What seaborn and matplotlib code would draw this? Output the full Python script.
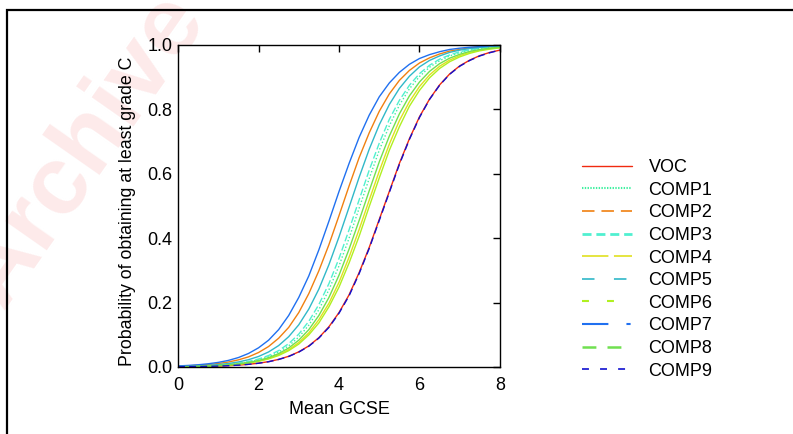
import pandas as pd
import seaborn as sns
import matplotlib.pyplot as plt
from matplotlib.lines import Line2D
from matplotlib.patches import Rectangle

# Data (probability of at least grade C vs mean GCSE)
gcse = [0.0, 0.25, 0.5, 0.75, 1.0, 1.25, 1.5, 1.75, 2.0, 2.25, 2.5, 2.75, 3.0, 3.25, 3.5, 3.75,
        4.0, 4.25, 4.5, 4.75, 5.0, 5.25, 5.5, 5.75, 6.0, 6.25, 6.5, 6.75, 7.0, 7.25, 7.5, 7.75, 8.0]

voc = [0.0007, 0.0010, 0.0014, 0.0020, 0.0029, 0.0041, 0.0058, 0.0083, 0.0118, 0.0166, 0.0237,
       0.0332, 0.0470, 0.0654, 0.0911, 0.125, 0.169, 0.224, 0.293, 0.371, 0.458, 0.545, 0.632,
       0.709, 0.777, 0.832, 0.876, 0.910, 0.935, 0.953, 0.967, 0.977, 0.984]
comp1 = [0.0011, 0.0017, 0.0024, 0.0035, 0.0051, 0.0074, 0.0107, 0.0154, 0.0223, 0.0321, 0.0461,
         0.0657, 0.0928, 0.130, 0.178, 0.240, 0.314, 0.400, 0.493, 0.585, 0.673, 0.749, 0.813,
         0.864, 0.902, 0.931, 0.951, 0.966, 0.976, 0.984, 0.989, 0.992, 0.995]
comp2 = [0.0025, 0.0036, 0.0052, 0.0074, 0.0107, 0.0154, 0.0221, 0.0314, 0.0449, 0.0636, 0.0893,
         0.123, 0.169, 0.228, 0.299, 0.380, 0.470, 0.562, 0.650, 0.727, 0.794, 0.848, 0.890,
         0.921, 0.944, 0.960, 0.972, 0.981, 0.986, 0.991, 0.994, 0.995, 0.997]
comp3 = [0.0013, 0.0018, 0.0027, 0.0039, 0.0056, 0.0082, 0.0118, 0.0171, 0.0247, 0.0356, 0.0509,
         0.0725, 0.102, 0.142, 0.194, 0.259, 0.337, 0.426, 0.519, 0.611, 0.695, 0.769, 0.828,
         0.875, 0.911, 0.937, 0.956, 0.969, 0.979, 0.985, 0.990, 0.993, 0.995]
comp4 = [0.0010, 0.0014, 0.0021, 0.0030, 0.0043, 0.0062, 0.0090, 0.0129, 0.0185, 0.0266, 0.0380,
         0.0537, 0.0759, 0.106, 0.147, 0.198, 0.263, 0.341, 0.427, 0.518, 0.608, 0.692, 0.765,
         0.824, 0.871, 0.907, 0.934, 0.953, 0.967, 0.977, 0.984, 0.989, 0.992]
comp5 = [0.0017, 0.0024, 0.0035, 0.0052, 0.0075, 0.0108, 0.0157, 0.0226, 0.0326, 0.0467, 0.0665,
         0.0941, 0.131, 0.180, 0.242, 0.318, 0.404, 0.496, 0.589, 0.676, 0.752, 0.815, 0.865,
         0.903, 0.932, 0.952, 0.966, 0.977, 0.984, 0.989, 0.992, 0.995, 0.996]
comp6 = [0.0010, 0.0014, 0.0020, 0.0029, 0.0041, 0.0059, 0.0085, 0.0123, 0.0174, 0.0251, 0.0356,
         0.0507, 0.0711, 0.0997, 0.137, 0.187, 0.248, 0.323, 0.406, 0.498, 0.587, 0.673, 0.746,
         0.810, 0.859, 0.898, 0.927, 0.948, 0.963, 0.974, 0.982, 0.987, 0.991]
comp7 = [0.0033, 0.0048, 0.0069, 0.0100, 0.0143, 0.0204, 0.0293, 0.0419, 0.0595, 0.0832, 0.116,
         0.160, 0.216, 0.283, 0.364, 0.453, 0.545, 0.632, 0.713, 0.782, 0.839, 0.882, 0.915,
         0.940, 0.958, 0.970, 0.979, 0.986, 0.990, 0.993, 0.995, 0.997, 0.998]
comp8 = [0.0011, 0.0015, 0.0022, 0.0032, 0.0047, 0.0068, 0.0098, 0.0141, 0.0202, 0.0290, 0.0415,
         0.0590, 0.0832, 0.116, 0.160, 0.216, 0.285, 0.366, 0.455, 0.547, 0.637, 0.717, 0.786,
         0.842, 0.885, 0.918, 0.942, 0.959, 0.971, 0.980, 0.986, 0.990, 0.993]
comp9 = [0.0007, 0.0010, 0.0014, 0.0020, 0.0028, 0.0040, 0.0057, 0.0082, 0.0116, 0.0163, 0.0233,
         0.0327, 0.0462, 0.0645, 0.0898, 0.123, 0.167, 0.221, 0.290, 0.368, 0.455, 0.542, 0.629,
         0.707, 0.775, 0.831, 0.875, 0.909, 0.934, 0.952, 0.966, 0.976, 0.984]

names = ["VOC", "COMP1", "COMP2", "COMP3", "COMP4", "COMP5", "COMP6", "COMP7", "COMP8", "COMP9"]
series = [voc, comp1, comp2, comp3, comp4, comp5, comp6, comp7, comp8, comp9]

colors = ["#f02a10", "#40f0a0", "#f08010", "#50f0d0", "#e0e020",
          "#30b8c8", "#b0f020", "#2070f0", "#70e050", "#1010d0"]
# dash patterns as shown in the legend (points, not scaled by width)
legend_dashes = [None, (1, 1), (9, 5), (6.5, 3.5), (19, 4), (9, 14), (5, 13),
                 (19, 13, 3, 13), (10, 8), (5, 8)]
legend_widths = [1.0, 1.5, 1.2, 2.0, 1.2, 1.2, 1.5, 1.5, 1.8, 1.2]
# in the plot area most curves look solid
plot_dashes = [None, (1, 1.5), None, (5, 2), None, None, None, None, None, (5, 3)]

sns.set_theme(style="white")
plt.rcParams['font.family'] = ['Liberation Sans', 'DejaVu Sans']
plt.rcParams['text.color'] = 'black'
plt.rcParams['axes.labelcolor'] = 'black'
plt.rcParams['lines.scale_dashes'] = False

fig = plt.figure(figsize=(7.93, 4.34), dpi=100)
ax = fig.add_axes([0.2245, 0.1544, 0.406, 0.742])

for name, vals, col, dsh in zip(names, series, colors, plot_dashes):
    df = pd.DataFrame({"gcse": gcse, "p": vals})
    sns.lineplot(data=df, x="gcse", y="p", color=col, linewidth=1.0, ax=ax, legend=False)
    if dsh is not None:
        ax.lines[-1].set_dashes(dsh)

ax.set_xlim(0, 8)
ax.set_ylim(0, 1)
ax.set_xticks([0, 2, 4, 6, 8])
ax.set_yticks([0, 0.2, 0.4, 0.6, 0.8, 1.0])
ax.set_yticklabels(["0.0", "0.2", "0.4", "0.6", "0.8", "1.0"])
ax.set_xlabel("Mean GCSE", fontsize=13, labelpad=5)
ax.set_ylabel("Probability of obtaining at least grade C", fontsize=12.8)
ax.yaxis.set_label_coords(-0.13, 0.483)
ax.tick_params(direction="in", length=5, width=1, top=True, right=True,
               labelsize=13, colors="black")
ax.tick_params(axis="x", pad=7)
ax.tick_params(axis="y", pad=4)
for sp in ax.spines.values():
    sp.set_color("black")
    sp.set_linewidth(1.0)

handles = []
for col, dsh, lw in zip(colors, legend_dashes, legend_widths):
    h = Line2D([0], [0], color=col, linewidth=lw)
    if dsh is not None:
        h.set_dashes(dsh)
    handles.append(h)
fig.legend(handles, names, loc="upper left", bbox_to_anchor=(0.722, 0.654),
           frameon=False, fontsize=13, handlelength=2.77, handletextpad=0.94,
           labelspacing=0.31, borderpad=0, labelcolor="black")

# page frame and faint watermark
fig.patches.append(Rectangle((7 / 793, -0.1), 1.2, 1 - 10 / 434 + 0.1,
                             transform=fig.transFigure, fill=False,
                             edgecolor="black", linewidth=1.6, zorder=0))
fig.text(0.107, 0.654, "Archive", fontsize=70, fontweight="bold", color="#fdeaea",
         rotation=55, ha="center", va="center", zorder=-1)

fig.savefig("out.png", dpi=100)
